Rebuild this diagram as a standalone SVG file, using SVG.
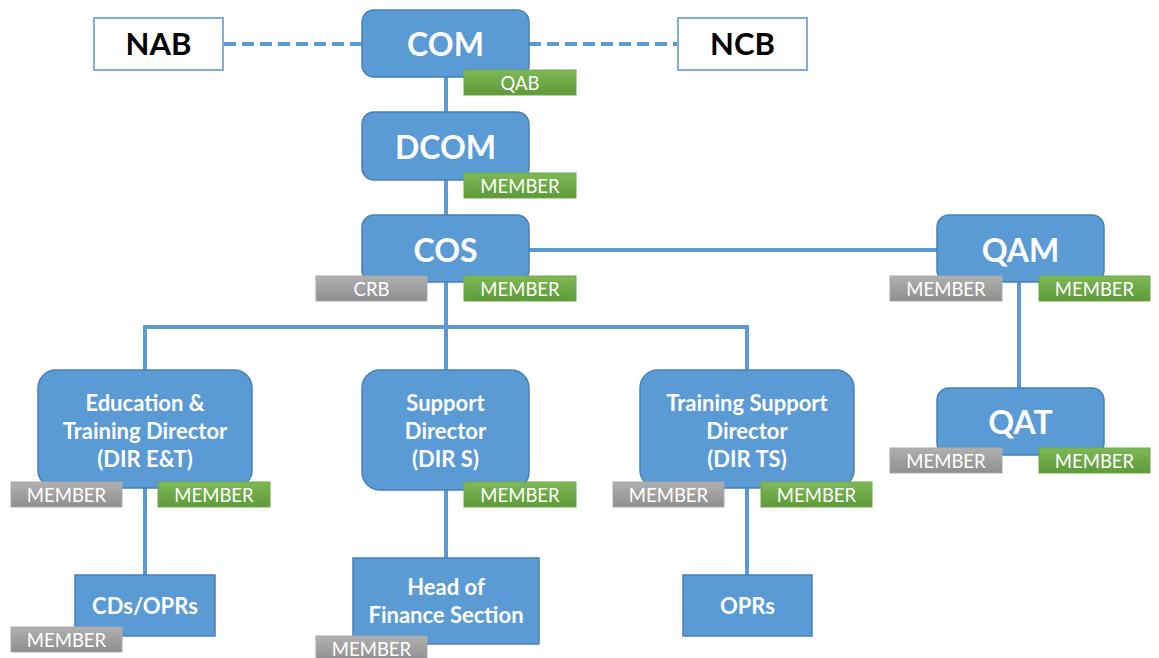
<svg xmlns="http://www.w3.org/2000/svg" width="1159" height="658" viewBox="0 0 1159 658">
  <defs>
    <linearGradient id="gGreen" x1="0" y1="0" x2="0" y2="1">
      <stop offset="0" stop-color="#7DB957"/>
      <stop offset="1" stop-color="#5E9A37"/>
    </linearGradient>
    <linearGradient id="gGray" x1="0" y1="0" x2="0" y2="1">
      <stop offset="0" stop-color="#B0B0B0"/>
      <stop offset="1" stop-color="#8F8F8F"/>
    </linearGradient>
  </defs>
  <style>
    .box { fill: #5B9BD5; stroke: #4A7FB5; stroke-width: 1.5; }
    .ext { fill: #FFFFFF; stroke: #7FAEDC; stroke-width: 2; }
    .grn { fill: url(#gGreen); stroke: #6FA84A; stroke-width: 1; }
    .gry { fill: url(#gGray); stroke: #A9A9A9; stroke-width: 1; }
    .ln { stroke: #5B9BD5; stroke-width: 4; fill: none; }
    .dash { stroke: #5B9BD5; stroke-width: 4; fill: none; stroke-dasharray: 12 6; }
    .big { font-family: Lato, "Liberation Sans", sans-serif; font-weight: bold; font-size: 32px; fill: #FFFFFF; text-anchor: middle; }
    .mid { font-family: Lato, "Liberation Sans", sans-serif; font-weight: bold; font-size: 22px; fill: #FFFFFF; text-anchor: middle; }
    .extt { font-family: Lato, "Liberation Sans", sans-serif; font-weight: bold; font-size: 31px; fill: #000000; text-anchor: middle; }
    .tag { font-family: Lato, "Liberation Sans", sans-serif; font-size: 18.5px; fill: #FFFFFF; text-anchor: middle; }
  </style>

  <!-- connectors -->
  <g id="connectors">
    <line class="dash" x1="224" y1="44" x2="362" y2="44"/>
    <line class="dash" x1="529" y1="44" x2="677" y2="44"/>
    <line class="ln" x1="446" y1="77" x2="446" y2="112"/>
    <line class="ln" x1="446" y1="180" x2="446" y2="215"/>
    <line class="ln" x1="529" y1="250" x2="937" y2="250"/>
    <line class="ln" x1="446" y1="282" x2="446" y2="370"/>
    <polyline class="ln" points="145,370 145,327 747,327 747,370"/>
    <line class="ln" x1="1019" y1="282" x2="1019" y2="388"/>
    <line class="ln" x1="145" y1="488" x2="145" y2="575"/>
    <line class="ln" x1="446" y1="490" x2="446" y2="558"/>
    <line class="ln" x1="747" y1="488" x2="747" y2="575"/>
  </g>

  <g id="nab">
    <rect class="ext" x="94" y="18" width="129" height="52"/>
    <text class="extt" x="158.5" y="55">NAB</text>
  </g>
  <g id="ncb">
    <rect class="ext" x="678" y="18" width="129" height="52"/>
    <text class="extt" x="742.5" y="55">NCB</text>
  </g>

  <g id="com">
    <rect class="box" x="362" y="10" width="167" height="67" rx="12"/>
    <text class="big" x="445.5" y="56">COM</text>
    <rect class="grn" x="464" y="70" width="112" height="25"/>
    <text class="tag" x="520" y="89.5">QAB</text>
  </g>

  <g id="dcom">
    <rect class="box" x="362" y="112" width="167" height="68" rx="12"/>
    <text class="big" x="445.5" y="159">DCOM</text>
    <rect class="grn" x="464" y="173" width="112" height="25"/>
    <text class="tag" x="520" y="192.5">MEMBER</text>
  </g>

  <g id="cos">
    <rect class="box" x="362" y="215" width="167" height="67" rx="12"/>
    <text class="big" x="445.5" y="262">COS</text>
    <rect class="gry" x="316" y="276" width="111" height="25"/>
    <text class="tag" x="371.5" y="295.5">CRB</text>
    <rect class="grn" x="464" y="276" width="112" height="25"/>
    <text class="tag" x="520" y="295.5">MEMBER</text>
  </g>

  <g id="qam">
    <rect class="box" x="937" y="215" width="167" height="67" rx="12"/>
    <text class="big" x="1020.5" y="262">QAM</text>
    <rect class="gry" x="890" y="276" width="112" height="25"/>
    <text class="tag" x="946" y="295.5">MEMBER</text>
    <rect class="grn" x="1039" y="276" width="111" height="25"/>
    <text class="tag" x="1094.5" y="295.5">MEMBER</text>
  </g>

  <g id="qat">
    <rect class="box" x="937" y="388" width="167" height="67" rx="12"/>
    <text class="big" x="1020.5" y="434">QAT</text>
    <rect class="gry" x="890" y="448" width="112" height="25"/>
    <text class="tag" x="946" y="467.5">MEMBER</text>
    <rect class="grn" x="1039" y="448" width="111" height="25"/>
    <text class="tag" x="1094.5" y="467.5">MEMBER</text>
  </g>

  <g id="dir-et">
    <rect class="box" x="38" y="370" width="214" height="118" rx="18"/>
    <text class="mid" x="145" y="411">Education &amp;</text>
    <text class="mid" x="145" y="439">Training Director</text>
    <text class="mid" x="145" y="467">(DIR E&amp;T)</text>
    <rect class="gry" x="11" y="482" width="111" height="25"/>
    <text class="tag" x="66.5" y="501.5">MEMBER</text>
    <rect class="grn" x="158" y="482" width="112" height="25"/>
    <text class="tag" x="214" y="501.5">MEMBER</text>
  </g>

  <g id="dir-s">
    <rect class="box" x="362" y="370" width="167" height="120" rx="18"/>
    <text class="mid" x="445.5" y="411">Support</text>
    <text class="mid" x="445.5" y="439">Director</text>
    <text class="mid" x="445.5" y="467">(DIR S)</text>
    <rect class="grn" x="464" y="482" width="112" height="25"/>
    <text class="tag" x="520" y="501.5">MEMBER</text>
  </g>

  <g id="dir-ts">
    <rect class="box" x="640" y="370" width="214" height="118" rx="18"/>
    <text class="mid" x="747" y="411">Training Support</text>
    <text class="mid" x="747" y="439">Director</text>
    <text class="mid" x="747" y="467">(DIR TS)</text>
    <rect class="gry" x="613" y="482" width="111" height="25"/>
    <text class="tag" x="668.5" y="501.5">MEMBER</text>
    <rect class="grn" x="761" y="482" width="111" height="25"/>
    <text class="tag" x="816.5" y="501.5">MEMBER</text>
  </g>

  <g id="cds-oprs">
    <rect class="box" x="75" y="575" width="140" height="61"/>
    <text class="mid" x="145" y="614">CDs/OPRs</text>
    <rect class="gry" x="11" y="627" width="111" height="25"/>
    <text class="tag" x="66.5" y="646.5">MEMBER</text>
  </g>

  <g id="finance">
    <rect class="box" x="353" y="558" width="186" height="86"/>
    <text class="mid" x="446" y="595">Head of</text>
    <text class="mid" x="446" y="623">Finance Section</text>
    <rect class="gry" x="316" y="636" width="111" height="25"/>
    <text class="tag" x="371.5" y="655.5">MEMBER</text>
  </g>

  <g id="oprs">
    <rect class="box" x="683" y="575" width="129" height="61"/>
    <text class="mid" x="747.5" y="614">OPRs</text>
  </g>
</svg>
